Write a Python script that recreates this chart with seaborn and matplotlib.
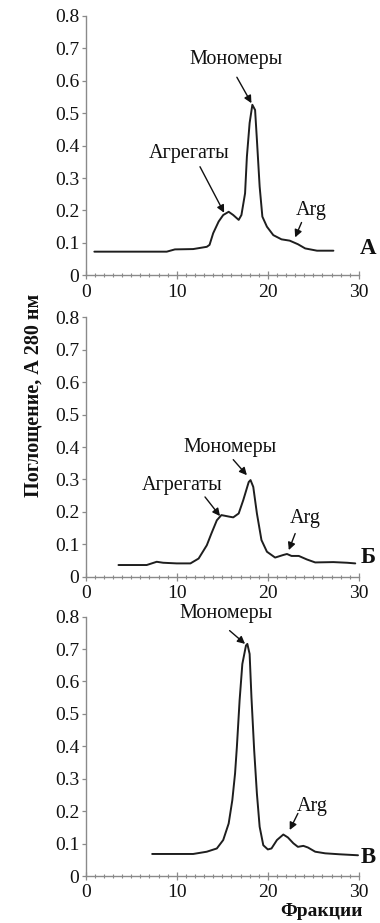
import numpy as np
import pandas as pd
import matplotlib
matplotlib.use("Agg")
import matplotlib.pyplot as plt
from matplotlib.ticker import MultipleLocator, FixedLocator
import seaborn as sns

# Elution profiles (fraction number vs A280)
frac_a = [0.95, 8.9, 9.8, 11.8, 13.3, 13.6, 14.0, 14.6, 15.1, 15.7, 16.2, 16.8, 17.1,
          17.5, 17.7, 18.0, 18.3, 18.6, 18.8, 19.1, 19.4, 19.9, 20.6, 21.5, 22.4,
          23.3, 24.1, 25.4, 27.2]
abs_a = [0.073, 0.073, 0.080, 0.081, 0.088, 0.094, 0.130, 0.166, 0.186, 0.196, 0.186,
         0.171, 0.186, 0.253, 0.366, 0.470, 0.526, 0.510, 0.418, 0.274, 0.181, 0.150,
         0.124, 0.111, 0.107, 0.096, 0.083, 0.076, 0.076]

frac_b = [3.6, 6.7, 7.8, 8.5, 10.0, 11.5, 12.4, 13.3, 13.8, 14.4, 14.9, 15.8, 16.2,
          16.8, 17.3, 17.9, 18.1, 18.4, 18.8, 19.3, 19.9, 20.8, 21.7, 22.1, 22.6,
          23.4, 24.3, 25.2, 27.2, 28.7, 29.6]
abs_b = [0.036, 0.036, 0.046, 0.043, 0.041, 0.041, 0.056, 0.097, 0.133, 0.174, 0.190,
         0.185, 0.183, 0.195, 0.236, 0.292, 0.298, 0.277, 0.195, 0.113, 0.077, 0.059,
         0.067, 0.070, 0.064, 0.064, 0.053, 0.044, 0.045, 0.043, 0.041]

frac_c = [7.3, 11.8, 13.3, 14.4, 15.1, 15.7, 16.1, 16.4, 16.6, 16.9, 17.2, 17.6, 17.75,
          18.0, 18.2, 18.5, 18.8, 19.1, 19.5, 20.0, 20.4, 21.0, 21.7, 22.2, 22.8,
          23.3, 23.9, 24.4, 25.2, 26.3, 27.9, 29.9]
abs_c = [0.068, 0.068, 0.075, 0.085, 0.111, 0.162, 0.234, 0.316, 0.398, 0.542, 0.654,
         0.711, 0.716, 0.685, 0.552, 0.388, 0.254, 0.152, 0.095, 0.082, 0.085, 0.111,
         0.128, 0.119, 0.101, 0.090, 0.093, 0.088, 0.075, 0.070, 0.067, 0.064]

y_ticks = [0, 0.1, 0.2, 0.3, 0.4, 0.5, 0.6, 0.7, 0.8]
y_tick_labels = ["0", "0.1", "0.2", "0.3", "0.4", "0.5", "0.6", "0.7", "0.8"]
x_ticks = [0, 10, 20, 30]
x_tick_labels = ["0", "10", "20", "30"]

panel_letters = ["А", "Б", "В"]

# (label, text x, text y, tail x, tail y, head x, head y)
notes_a = [("Мономеры", 16.5, 0.665, 16.6, 0.611, 18.2, 0.531),
           ("Агрегаты", 11.4, 0.377, 12.55, 0.335, 15.2, 0.193),
           ("Arg", 24.8, 0.200, 23.7, 0.163, 23.0, 0.117)]
notes_b = [("Мономеры", 15.9, 0.400, 16.2, 0.361, 17.7, 0.313),
           ("Агрегаты", 10.6, 0.282, 13.1, 0.246, 14.75, 0.187),
           ("Arg", 24.1, 0.180, 23.0, 0.133, 22.3, 0.082)]
notes_c = [("Мономеры", 15.4, 0.810, 15.8, 0.757, 17.5, 0.716),
           ("Arg", 24.9, 0.213, 23.3, 0.193, 22.4, 0.142)]

sns.set_style("ticks")
plt.rcParams["font.family"] = ["Liberation Serif", "DejaVu Serif"]

fig = plt.figure(figsize=(3.8, 9.23), dpi=100)
left, width, height = 0.2255, 0.719, 0.281
bottoms = [0.7017, 0.3752, 0.0509]

profiles = [(frac_a, abs_a, notes_a), (frac_b, abs_b, notes_b), (frac_c, abs_c, notes_c)]
spine_col = "#8a8a8a"

for i, ((fx, fy, notes), bot) in enumerate(zip(profiles, bottoms)):
    ax = fig.add_axes([left, bot, width, height])
    df = pd.DataFrame({"fraction": fx, "a280": fy})
    sns.lineplot(data=df, x="fraction", y="a280", ax=ax, color="#1e1e1e",
                 linewidth=1.4, estimator=None, sort=False)
    ax.set_xlim(0, 30)
    ax.set_ylim(0, 0.8)
    ax.set_xlabel("")
    ax.set_ylabel("")
    ax.yaxis.set_major_locator(FixedLocator(y_ticks))
    ax.set_yticklabels(y_tick_labels)
    ax.xaxis.set_major_locator(FixedLocator(x_ticks))
    ax.set_xticklabels(x_tick_labels)
    ax.xaxis.set_minor_locator(MultipleLocator(1))
    for s in ["top", "right"]:
        ax.spines[s].set_visible(False)
    for s in ["left", "bottom"]:
        ax.spines[s].set_color(spine_col)
        ax.spines[s].set_linewidth(1.0)
    ax.tick_params(axis="y", which="major", direction="out", length=3, width=0.9,
                   color=spine_col, labelsize=14, pad=1.5, labelcolor="#111")
    ax.tick_params(axis="x", which="major", direction="inout", length=6, width=0.9,
                   color=spine_col, labelsize=14, pad=3, labelcolor="#111")
    ax.tick_params(axis="x", which="minor", direction="inout", length=3, width=0.8,
                   color=spine_col)
    for lab, tx, ty, ax0, ay0, hx, hy in notes:
        ax.text(tx, ty, lab, ha="center", va="center", fontsize=14.5, color="#111",
                clip_on=False)
        ax.annotate("", xy=(hx, hy), xytext=(ax0, ay0),
                    arrowprops=dict(arrowstyle="-|>", color="#111", lw=1.0,
                                    mutation_scale=11, shrinkA=0, shrinkB=0),
                    annotation_clip=False)
    ly = [0.084, 0.058, 0.058][i]
    ax.text(31.0, ly, panel_letters[i], ha="center", va="center", fontsize=16.5,
            fontweight="bold", color="#111", clip_on=False)

fig.text(0.087, 0.572, "Поглощение, А 280 нм", rotation=90, ha="center",
         va="center", fontsize=14.5, fontweight="bold", color="#111")
fig.text(0.845, 0.0125, "Фракции", ha="center", va="center", fontsize=14,
         fontweight="bold", color="#111")

fig.savefig("out.png", dpi=100)
